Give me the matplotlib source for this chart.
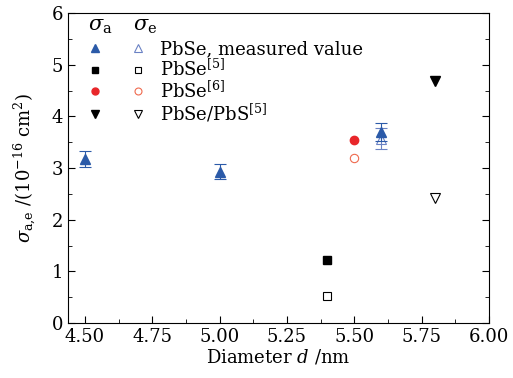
import numpy as np
import matplotlib.pyplot as plt
from matplotlib.lines import Line2D
from matplotlib.legend_handler import HandlerTuple
from matplotlib.ticker import MultipleLocator

plt.rcParams['font.family'] = 'DejaVu Serif'
plt.rcParams['mathtext.fontset'] = 'dejavuserif'

# measured PbSe (this work)
meas_d = [4.5, 5.0, 5.6]
meas_sa = [3.17, 2.93, 3.70]
meas_sa_err = [0.15, 0.15, 0.18]
meas_se_d = [5.6]
meas_se = [3.57]
meas_se_err = [0.20]

# reference values
ref5_d = [5.4]
ref5_sa = [1.22]
ref5_se = [0.53]
ref6_d = [5.5]
ref6_sa = [3.55]
ref6_se = [3.20]
core_d = [5.8]
core_sa = [4.68]
core_se = [2.42]

labels = ['PbSe, measured value', 'PbSe$^{[5]}$', 'PbSe$^{[6]}$', 'PbSe/PbS$^{[5]}$']

blue = '#2b5aa8'
blue2 = '#6b82c4'
red = '#e8262a'
red2 = '#ef6a4e'

fig = plt.figure(figsize=(5.13, 3.78), dpi=100)
ax = fig.add_axes([0.1326, 0.1455, 0.8204, 0.8201])

ax.errorbar(meas_d, meas_sa, yerr=meas_sa_err, fmt='^', color=blue, ms=7,
            elinewidth=0.8, capsize=4, capthick=0.8, zorder=3)
ax.errorbar(meas_se_d, meas_se, yerr=meas_se_err, fmt='^', mfc='none', mec=blue2,
            ecolor=blue2, ms=7, mew=0.8, elinewidth=0.8, capsize=4, capthick=0.8)
ax.plot(ref5_d, ref5_sa, 's', color='black', ms=5.5)
ax.plot(ref5_d, ref5_se, 's', mfc='none', mec='black', ms=5.5, mew=0.8)
ax.plot(ref6_d, ref6_sa, 'o', color=red, ms=6)
ax.plot(ref6_d, ref6_se, 'o', mfc='none', mec=red2, ms=6, mew=0.8)
ax.plot(core_d, core_sa, 'v', color='black', ms=7)
ax.plot(core_d, core_se, 'v', mfc='none', mec='black', ms=7, mew=0.8)

ax.set_xlim(4.437, 6.0)
ax.set_ylim(0, 6)
ax.xaxis.set_major_locator(MultipleLocator(0.25))
ax.xaxis.set_minor_locator(MultipleLocator(0.125))
ax.yaxis.set_major_locator(MultipleLocator(1))
ax.yaxis.set_minor_locator(MultipleLocator(0.5))
ax.xaxis.set_major_formatter(plt.FormatStrFormatter('%.2f'))
ax.tick_params(which='both', direction='in', top=False, right=True, labelsize=13)
ax.tick_params(which='major', length=5)
ax.tick_params(which='minor', length=3)
ax.set_xlabel('Diameter $d$ /nm', fontsize=13, labelpad=1)
ax.set_ylabel(r'$\sigma_{\rm a{,}e}$ /(10$^{-16}$ cm$^2$)', fontsize=13, labelpad=10)

handles = [
    (Line2D([], [], ls='none', marker='^', color=blue, ms=5.5),
     Line2D([], [], ls='none', marker='^', mfc='none', mec=blue2, ms=5.5, mew=0.8)),
    (Line2D([], [], ls='none', marker='s', color='black', ms=4.5),
     Line2D([], [], ls='none', marker='s', mfc='none', mec='black', ms=4.5, mew=0.8)),
    (Line2D([], [], ls='none', marker='o', color=red, ms=5),
     Line2D([], [], ls='none', marker='o', mfc='none', mec=red2, ms=5, mew=0.8)),
    (Line2D([], [], ls='none', marker='v', color='black', ms=5.5),
     Line2D([], [], ls='none', marker='v', mfc='none', mec='black', ms=5.5, mew=0.8)),
]
fs = 13
fs_px = fs * 100 / 72
ax.legend(handles, labels, handler_map={tuple: HandlerTuple(ndivide=None, pad=35 / fs_px)},
          handlelength=51 / fs_px, handletextpad=18 / fs_px, fontsize=fs,
          frameon=False, loc='upper left', bbox_to_anchor=(23 / 421, 0.912),
          labelspacing=0.02, borderaxespad=0, borderpad=0)
ax.text(20 / 421, 0.955, r'$\sigma_{\rm a}$', transform=ax.transAxes, fontsize=15, va='center')
ax.text(65 / 421, 0.955, r'$\sigma_{\rm e}$', transform=ax.transAxes, fontsize=15, va='center')

fig.savefig('out.png', dpi=100)
